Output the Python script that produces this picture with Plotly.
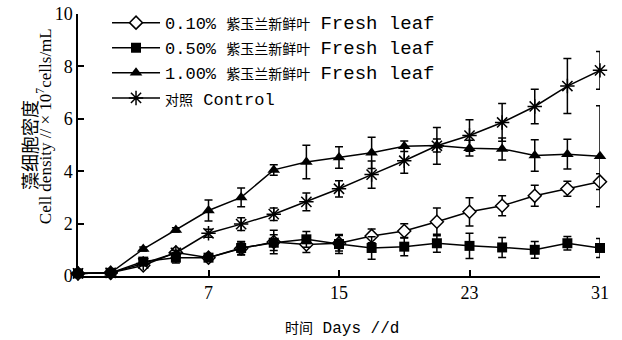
import plotly.graph_objects as go

days = [-1, 1, 3, 5, 7, 9, 11, 13, 15, 17, 19, 21, 23, 25, 27, 29, 31]

names = [
    "0.10%",
    "0.50%",
    "1.00%",
]
leaf_cn = "紫玉兰新鲜叶"
leaf_en = "Fresh leaf"
control_cn = "对照"
control_en = "Control"

d010 = [0.1, 0.12, 0.4, 0.9, 0.7, 1.05, 1.3, 1.2, 1.25, 1.53, 1.72, 2.07, 2.45, 2.68, 3.06, 3.33, 3.6]
e010 = [0, 0.02, 0.1, 0.15, 0.1, 0.25, 0.45, 0.3, 0.3, 0.26, 0.27, 0.53, 0.54, 0.38, 0.4, 0.29, 0.3]

d050 = [0.1, 0.12, 0.55, 0.7, 0.7, 1.07, 1.27, 1.4, 1.22, 1.07, 1.12, 1.25, 1.15, 1.09, 1.0, 1.25, 1.07]
e050 = [0, 0.02, 0.1, 0.2, 0.1, 0.25, 0.3, 0.3, 0.36, 0.43, 0.35, 0.34, 0.48, 0.38, 0.32, 0.26, 0.36]

d100 = [0.1, 0.12, 1.03, 1.76, 2.5, 3.0, 4.05, 4.35, 4.52, 4.7, 4.95, 4.98, 4.88, 4.85, 4.6, 4.65, 4.57]
e100 = [0, 0.02, 0.08, 0.08, 0.4, 0.36, 0.2, 0.64, 0.41, 0.6, 0.2, 0.25, 0.3, 0.42, 0.6, 0.57, 1.93]

dctl = [0.1, 0.12, 0.48, 0.88, 1.63, 1.98, 2.36, 2.83, 3.33, 3.87, 4.4, 4.97, 5.36, 5.86, 6.47, 7.25, 7.85]
ectl = [0, 0.02, 0.08, 0.1, 0.15, 0.24, 0.24, 0.34, 0.31, 0.52, 0.48, 0.7, 0.6, 0.72, 0.66, 1.05, 0.72]

x_ticks = [7, 15, 23, 31]
y_ticks = [0, 2, 4, 6, 8, 10]

CJK = "Noto Sans CJK SC"
MONO = "Liberation Mono"
SERIF = "Liberation Serif"


def cjk(s, size):
    return f'<span style="font-family:{CJK};font-size:{size}px">{s}</span>'


def en(s, size):
    return f'<span style="font-size:{size}px">{s}</span>'


series = [
    (f"{names[0]} {cjk(leaf_cn, 14)} {en(leaf_en, 19)}", d010, e010,
     dict(symbol="diamond", size=10, color="white", line=dict(width=1.5, color="black"))),
    (f"{names[1]} {cjk(leaf_cn, 14)} {en(leaf_en, 19)}", d050, e050,
     dict(symbol="square", size=10, color="black")),
    (f"{names[2]} {cjk(leaf_cn, 14)} {en(leaf_en, 19)}", d100, e100,
     dict(symbol="triangle-up", size=11, color="black")),
    (f"{cjk(control_cn, 14)} {en(control_en, 17)}", dctl, ectl,
     dict(symbol="asterisk-open", size=12, color="black", line=dict(width=1.5, color="black"))),
]

fig = go.Figure()
for i, (nm, ys, es, mk) in enumerate(series):
    fig.add_trace(go.Scatter(
        x=days, y=ys, name=nm, mode="lines+markers",
        line=dict(color="black", width=1.5),
        marker=mk,
        error_y=dict(type="data", array=es, visible=True, color="black", thickness=1.5, width=4),
        cliponaxis=False,
        legendgroup=f"g{i}",
    ))

fig.update_layout(
    width=622, height=340,
    margin=dict(l=78, r=22, t=14, b=64, autoexpand=False),
    paper_bgcolor="white", plot_bgcolor="white",
    showlegend=True,
    legend=dict(
        x=0.0556, y=1.034, xanchor="left", yanchor="top",
        font=dict(family=MONO, size=17, color="black"),
        bgcolor="rgba(0,0,0,0)", itemwidth=48, tracegroupgap=0,
    ),
    xaxis=dict(
        range=[-1, 31], tickvals=x_ticks, ticktext=[str(t) for t in x_ticks],
        showgrid=False, zeroline=False, showline=True, linecolor="black", linewidth=1.5,
        ticks="inside", ticklen=6, tickwidth=1.5, tickcolor="black", automargin=False,
        tickfont=dict(family=SERIF, size=18, color="black"),
    ),
    yaxis=dict(
        range=[0, 10], tickvals=y_ticks, ticktext=[str(t) for t in y_ticks],
        showgrid=False, zeroline=False, showline=True, linecolor="black", linewidth=1.5,
        ticks="inside", ticklen=6, tickwidth=1.5, tickcolor="black", automargin=False,
        tickfont=dict(family=SERIF, size=18, color="black"),
    ),
    annotations=[
        dict(text="藻细胞密度", xref="paper", yref="paper", x=-0.094, y=0.5,
             xanchor="center", yanchor="middle", textangle=-90, showarrow=False,
             font=dict(family=CJK, size=18, color="black")),
        dict(text="Cell density // × 10<sup>7</sup>cells/mL", xref="paper", yref="paper",
             x=-0.066, y=0.57, xanchor="center", yanchor="middle", textangle=-90, showarrow=False,
             font=dict(family=SERIF, size=17, color="black")),
        dict(text=f"{cjk('时间', 14)} Days //d", xref="paper", yref="paper",
             x=0.506, y=-0.195, xanchor="center", yanchor="middle", showarrow=False,
             font=dict(family=MONO, size=16, color="black")),
    ],
)

fig.write_html("out.html")
